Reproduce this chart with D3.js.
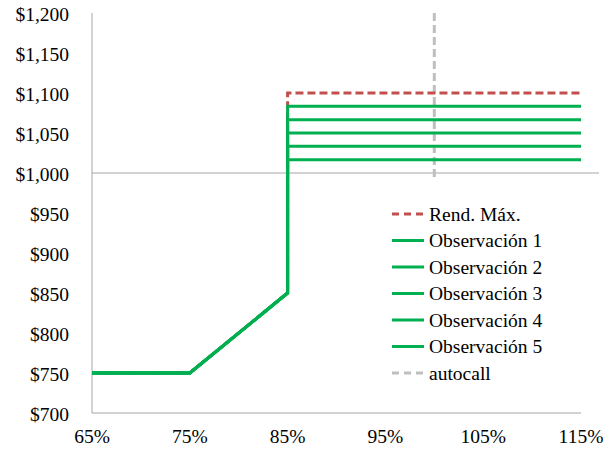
<!DOCTYPE html>
<html><head><meta charset="utf-8">
<script src="https://cdn.jsdelivr.net/npm/d3@7"></script>
<style>body{margin:0;background:#fff}svg{display:block}text{font-family:"Liberation Serif","Times New Roman",serif;fill:#000}</style>
</head><body><svg id="c" width="610" height="449"></svg>
<script>
const xTicks = [0.65, 0.75, 0.85, 0.95, 1.05, 1.15];
const yTicks = [700, 750, 800, 850, 900, 950, 1000, 1050, 1100, 1150, 1200];
const seriesNames = ["Rend. Máx.", "Observación 1", "Observación 2", "Observación 3", "Observación 4", "Observación 5", "autocall"];
const basePath = [[0.65, 750], [0.75, 750], [0.85, 850]];
const maxLevel = 1100;
const obsLevels = [1083.33, 1066.67, 1050, 1033.33, 1016.67];
const autocallX = 1.00;
const autocallY = [995, 1200];

const svg = d3.select("#c");
const x = d3.scaleLinear().domain([0.65, 1.15]).range([92, 581]);
const y = d3.scaleLinear().domain([700, 1200]).range([413, 13]);
const line = d3.line().x(d => x(d[0])).y(d => y(d[1]));
const axisColor = "#A6A6A6";
const fs = 19.5;

// axes
svg.append("line").attr("x1", x(0.65)).attr("x2", x(0.65)).attr("y1", y(1200)).attr("y2", y(700)).attr("stroke", axisColor).attr("stroke-width", 1);
svg.append("line").attr("x1", x(0.65)).attr("x2", x(1.15)).attr("y1", y(700)).attr("y2", y(700)).attr("stroke", axisColor).attr("stroke-width", 1);
svg.append("line").attr("x1", x(0.65)).attr("x2", 599).attr("y1", y(1000)).attr("y2", y(1000)).attr("stroke", axisColor).attr("stroke-width", 1);

const fmtY = d => "$" + d3.format(",")(d);
svg.append("g").selectAll("text").data(yTicks).join("text")
  .attr("x", 69).attr("y", d => y(d)).attr("dy", "0.4em").attr("text-anchor", "end")
  .attr("font-size", fs).text(fmtY);
svg.append("g").selectAll("text").data(xTicks).join("text")
  .attr("x", d => x(d)).attr("y", 443).attr("text-anchor", "middle")
  .attr("font-size", fs).text(d => Math.round(d * 100) + "%");

// autocall
svg.append("path").attr("d", line([[autocallX, autocallY[0]], [autocallX, autocallY[1]]]))
  .attr("fill", "none").attr("stroke", "#BFBFBF").attr("stroke-width", 3).attr("stroke-dasharray", "8,4");
// Rend. Max
svg.append("path").attr("d", line(basePath.concat([[0.85, maxLevel], [1.15, maxLevel]])))
  .attr("fill", "none").attr("stroke", "#C0504D").attr("stroke-width", 3).attr("stroke-dasharray", "8,4");
// observations
obsLevels.forEach(l => {
  svg.append("path").attr("d", line(basePath.concat([[0.85, l], [1.15, l]])))
    .attr("fill", "none").attr("stroke", "#00B050").attr("stroke-width", 3).attr("stroke-linejoin", "miter");
});

// legend
const legColors = ["#C0504D", "#00B050", "#00B050", "#00B050", "#00B050", "#00B050", "#BFBFBF"];
const legDash = ["7,5", null, null, null, null, null, "7,5"];
const lg = svg.append("g");
seriesNames.forEach((n, i) => {
  const yy = 214 + i * 26.5;
  lg.append("line").attr("x1", 392).attr("x2", 424).attr("y1", yy).attr("y2", yy)
    .attr("stroke", legColors[i]).attr("stroke-width", 3).attr("stroke-dasharray", legDash[i]);
  lg.append("text").attr("x", 429).attr("y", yy).attr("dy", "0.35em").attr("font-size", fs).text(n);
});
</script></body></html>
